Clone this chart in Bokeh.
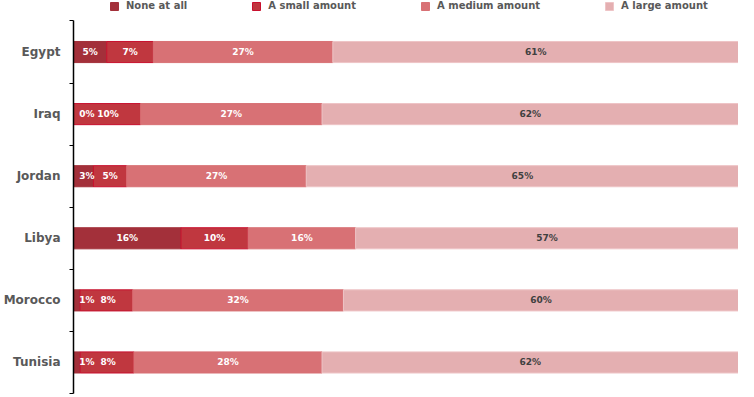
from bokeh.plotting import figure
from bokeh.models import ColumnDataSource, Range1d, FixedTicker, Legend, LegendItem
from bokeh.core.properties import value
from bokeh.embed import file_html
from bokeh.resources import INLINE

countries = ["Egypt", "Iraq", "Jordan", "Libya", "Morocco", "Tunisia"]
series_names = ["None at all", "A small amount", "A medium amount", "A large amount"]
none_at_all = [5, 0, 3, 16, 1, 1]
small_amount = [7, 10, 5, 10, 8, 8]
medium_amount = [27, 27, 27, 16, 32, 28]
large_amount = [61, 62, 65, 57, 60, 62]

series = [none_at_all, small_amount, medium_amount, large_amount]
fill_colors = ["#A3303A", "#C0373F", "#D87175", "#E4AFB1"]
line_colors = ["#A3303A", "#C8102E", "#D87175", "#EEC4C6"]
label_colors = ["#FFFFFF", "#FFFFFF", "#FFFFFF", "#404040"]

FONT = "DejaVu Sans"
W, H = 738, 395
TOP, BOTTOM, LEFT = 0, 2, 66

# 100% stacked: normalize each row
n = len(countries)
data = {"y": [i + 0.5 for i in range(n)]}
lefts = [0.0] * n
prev_lab = [None] * n
for k, s in enumerate(series):
    rights, labx, labt = [], [], []
    for i in range(n):
        tot = sum(ser[i] for ser in series)
        share = s[i] / tot * 100
        r = lefts[i] + share
        c = (lefts[i] + r) / 2
        if prev_lab[i] is None:
            c = max(c, 2.0)
        else:
            c = max(c, prev_lab[i] + 3.2)
        prev_lab[i] = c
        rights.append(r)
        labx.append(c)
        labt.append(f"{s[i]}%")
    data[f"l{k}"] = list(lefts)
    data[f"r{k}"] = rights
    data[f"x{k}"] = labx
    data[f"t{k}"] = labt
    lefts = rights

src = ColumnDataSource(data)

p = figure(width=W, height=H, output_backend="svg", toolbar_location=None,
           x_range=Range1d(0, 100), y_range=Range1d(n, -0.33),
           min_border_left=LEFT, min_border_right=0, min_border_top=TOP,
           min_border_bottom=BOTTOM)
p.background_fill_color = "white"
p.border_fill_color = "white"
p.outline_line_color = None
p.xgrid.visible = False
p.ygrid.visible = False
p.xaxis.visible = False

items = []
for k in range(4):
    r = p.hbar(y="y", left=f"l{k}", right=f"r{k}", height=0.34, source=src,
               fill_color=fill_colors[k], line_color=line_colors[k], line_width=1)
    items.append(LegendItem(label=series_names[k], renderers=[r]))
for k in range(4):
    p.text(x=f"x{k}", y="y", text=f"t{k}", source=src, text_align="center",
           text_baseline="middle", text_font=value(FONT), text_font_style="bold",
           text_font_size="9px", text_color=label_colors[k])

yax = p.yaxis[0]
yax.bounds = (0, n)
yax.ticker = FixedTicker(ticks=[i + 0.5 for i in range(n)], minor_ticks=list(range(n + 1)))
yax.major_label_overrides = {i + 0.5: c for i, c in enumerate(countries)}
yax.major_tick_in = 0
yax.major_tick_out = 0
yax.minor_tick_in = 0
yax.minor_tick_out = 4
yax.minor_tick_line_color = "#000000"
yax.axis_line_color = "#000000"
yax.axis_line_width = 1.5
yax.major_label_standoff = 9
yax.major_label_text_font = FONT
yax.major_label_text_font_style = "bold"
yax.major_label_text_font_size = "12px"
yax.major_label_text_color = "#595959"

frame_h = H - TOP - BOTTOM
legend = Legend(items=items, orientation="horizontal", location=(36, frame_h - 11),
                glyph_width=10, glyph_height=10, label_height=10, label_standoff=7,
                spacing=64, padding=0, margin=0, border_line_color=None,
                background_fill_alpha=0, label_text_font=FONT,
                label_text_font_style="bold", label_text_font_size="10px",
                label_text_color="#595959")
p.add_layout(legend, "center")

open("out.html", "w").write(file_html(p, INLINE))
